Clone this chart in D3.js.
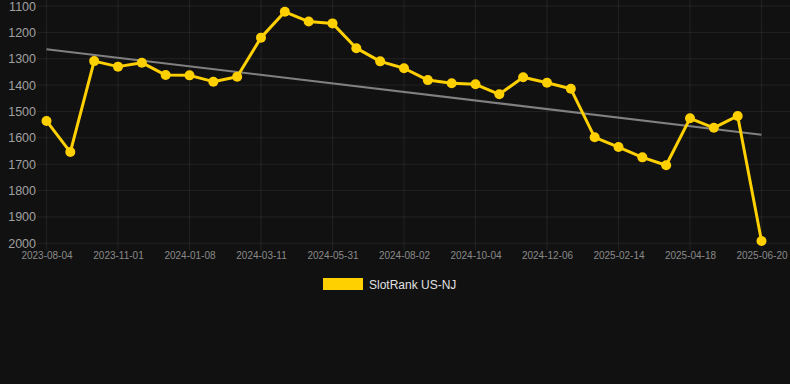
<!DOCTYPE html>
<html>
<head>
<meta charset="utf-8">
<script src="https://cdn.jsdelivr.net/npm/d3@7/dist/d3.min.js"></script>
<style>
  html, body { margin: 0; padding: 0; background: #111111; }
  svg { display: block; }
</style>
</head>
<body>
<svg id="chart" width="790" height="384"></svg>
<script>
// ---- data ----
const dates = [
  "2023-08-04","2023-09-03","2023-10-02","2023-11-01","2023-11-23","2023-12-16",
  "2024-01-08","2024-01-29","2024-02-19","2024-03-11","2024-04-07","2024-05-04",
  "2024-05-31","2024-06-21","2024-07-12","2024-08-02","2024-08-23","2024-09-13",
  "2024-10-04","2024-10-25","2024-11-15","2024-12-06","2024-12-29","2025-01-21",
  "2025-02-14","2025-03-06","2025-03-27","2025-04-18","2025-05-09","2025-05-30",
  "2025-06-20"
];
const rankValues = [
  1536, 1654, 1309, 1330, 1315, 1362,
  1363, 1387, 1368, 1220, 1122, 1159,
  1166, 1260, 1310, 1336, 1381, 1393,
  1397, 1435, 1370, 1391, 1414, 1598,
  1635, 1674, 1704, 1526, 1562, 1517,
  1991
];
const trendValues = [1264, 1588]; // start, end of trend line
const yTicks = [1100, 1200, 1300, 1400, 1500, 1600, 1700, 1800, 1900, 2000];
const seriesName = "SlotRank US-NJ";

// ---- layout ----
const svg = d3.select("#chart");
const W = 790, H = 384;
const plotLeft = 46.5, plotRight = 761.5, gridLeft = 37, gridRight = 790;
const yTop = 6, yBottom = 243.3;

svg.append("rect").attr("width", W).attr("height", H).attr("fill", "#111111");

const x = d3.scalePoint().domain(dates).range([plotLeft, plotRight]);
const y = d3.scaleLinear().domain([1100, 2000]).range([yTop, yBottom]);

const labeledDates = dates.filter((d, i) => i % 3 === 0);

// grid
const grid = svg.append("g");
grid.selectAll("line.h").data(yTicks).enter().append("line")
  .attr("x1", gridLeft).attr("x2", gridRight)
  .attr("y1", d => y(d)).attr("y2", d => y(d))
  .attr("stroke", "rgba(255,255,255,0.07)").attr("stroke-width", 1);
grid.selectAll("line.v").data(labeledDates).enter().append("line")
  .attr("x1", d => x(d)).attr("x2", d => x(d))
  .attr("y1", 0).attr("y2", yBottom + 7)
  .attr("stroke", "rgba(255,255,255,0.07)").attr("stroke-width", 1);

// y axis
const yAxis = d3.axisLeft(y).tickValues(yTicks).tickSize(0).tickPadding(0).tickFormat(d3.format("d"));
const yG = svg.append("g").attr("transform", `translate(${gridLeft - 1},0)`).call(yAxis);
yG.select(".domain").remove();
yG.selectAll("text").attr("fill", "#a0a0a0").style("font-family", "Arial, 'Liberation Sans', sans-serif").style("font-size", "12.5px");

// x axis
const xAxis = d3.axisBottom(x).tickValues(labeledDates).tickSize(0).tickPadding(0);
const xG = svg.append("g").attr("transform", `translate(0,${yBottom + 9})`).call(xAxis);
xG.select(".domain").remove();
xG.selectAll("text").attr("fill", "#8a8a8a").attr("dy", "0.71em")
  .style("font-family", "Arial, 'Liberation Sans', sans-serif").style("font-size", "10px");

// trend line
svg.append("line")
  .attr("x1", x(dates[0])).attr("y1", y(trendValues[0]))
  .attr("x2", x(dates[dates.length - 1])).attr("y2", y(trendValues[1]))
  .attr("stroke", "#808080").attr("stroke-width", 2);

// series line
const pts = dates.map((d, i) => ({ d, v: rankValues[i] }));
svg.append("path").datum(pts)
  .attr("fill", "none").attr("stroke", "#FFD000").attr("stroke-width", 3)
  .attr("stroke-linejoin", "round")
  .attr("d", d3.line().x(p => x(p.d)).y(p => y(p.v)));
svg.selectAll("circle.pt").data(pts).enter().append("circle")
  .attr("cx", p => x(p.d)).attr("cy", p => y(p.v)).attr("r", 5)
  .attr("fill", "#FFD000");

// legend
const lg = svg.append("g");
lg.append("rect").attr("x", 323).attr("y", 278).attr("width", 40).attr("height", 12).attr("fill", "#FFD000");
lg.append("text").attr("x", 369).attr("y", 288.5).text(seriesName)
  .attr("fill", "#e0e0e0").style("font-family", "Arial, 'Liberation Sans', sans-serif").style("font-size", "12px");
</script>
</body>
</html>
